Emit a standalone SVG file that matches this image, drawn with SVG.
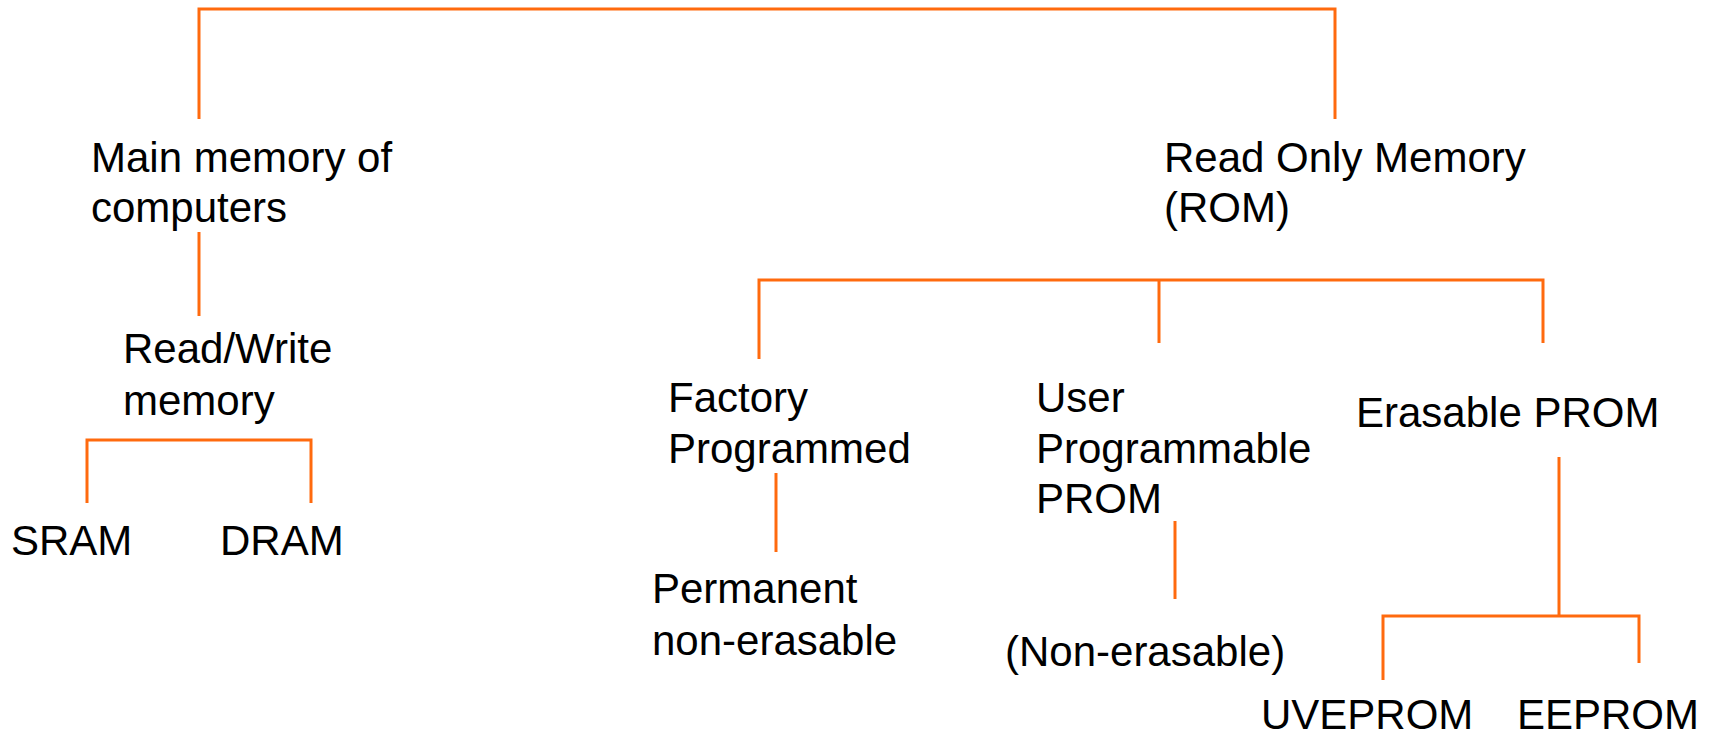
<svg xmlns="http://www.w3.org/2000/svg" width="1713" height="735" viewBox="0 0 1713 735">
  <style>
    .lbl { font-family: "Liberation Sans", Arial, sans-serif; font-size: 42px; fill: #000; }
    .wire { stroke: #ff6a0e; stroke-width: 3; fill: none; }
  </style>
  <rect width="1713" height="735" fill="#fff"/>

  <!-- connectors -->
  <g id="connectors">
    <!-- root bracket -->
    <polyline class="wire" points="199,119 199,9 1335,9 1335,119"/>
    <!-- main memory -> read/write -->
    <line class="wire" x1="199" y1="232" x2="199" y2="316"/>
    <!-- read/write -> SRAM, DRAM -->
    <polyline class="wire" points="87,503 87,440 311,440 311,503"/>
    <!-- ROM -> three kinds -->
    <polyline class="wire" points="759,359 759,280 1543,280 1543,343"/>
    <line class="wire" x1="1159" y1="280" x2="1159" y2="343"/>
    <!-- factory programmed -> permanent -->
    <line class="wire" x1="776" y1="473" x2="776" y2="552"/>
    <!-- user PROM -> non-erasable -->
    <line class="wire" x1="1175" y1="521" x2="1175" y2="599"/>
    <!-- erasable PROM -> UVEPROM, EEPROM -->
    <line class="wire" x1="1559" y1="457" x2="1559" y2="616"/>
    <polyline class="wire" points="1383,680 1383,616 1639,616 1639,663"/>
  </g>

  <g id="main-memory">
    <text class="lbl" x="91" y="172">Main memory of</text>
    <text class="lbl" x="91" y="222">computers</text>
  </g>
  <g id="read-write">
    <text class="lbl" x="123" y="363">Read/Write</text>
    <text class="lbl" x="123" y="415">memory</text>
  </g>
  <g id="sram">
    <text class="lbl" x="11" y="555">SRAM</text>
  </g>
  <g id="dram">
    <text class="lbl" x="220" y="555">DRAM</text>
  </g>
  <g id="rom">
    <text class="lbl" x="1164" y="172">Read Only Memory</text>
    <text class="lbl" x="1164" y="222">(ROM)</text>
  </g>
  <g id="factory">
    <text class="lbl" x="668" y="412">Factory</text>
    <text class="lbl" x="668" y="463">Programmed</text>
  </g>
  <g id="permanent">
    <text class="lbl" x="652" y="603">Permanent</text>
    <text class="lbl" x="652" y="655">non-erasable</text>
  </g>
  <g id="user-prom">
    <text class="lbl" x="1036" y="412">User</text>
    <text class="lbl" x="1036" y="463">Programmable</text>
    <text class="lbl" x="1036" y="513">PROM</text>
  </g>
  <g id="non-erasable">
    <text class="lbl" x="1005" y="666">(Non-erasable)</text>
  </g>
  <g id="eprom">
    <text class="lbl" x="1356" y="427">Erasable PROM</text>
  </g>
  <g id="uveprom">
    <text class="lbl" x="1261" y="729">UVEPROM</text>
  </g>
  <g id="eeprom">
    <text class="lbl" x="1517" y="729">EEPROM</text>
  </g>
</svg>
